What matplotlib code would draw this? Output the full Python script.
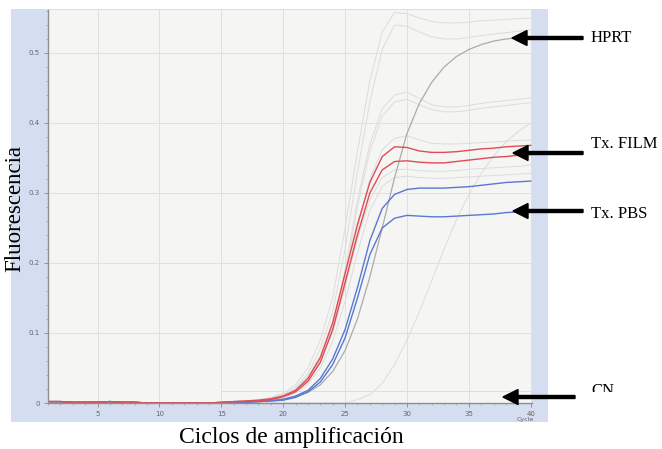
import numpy as np
import matplotlib
matplotlib.use("Agg")
import matplotlib.pyplot as plt
from matplotlib.patches import Rectangle, FancyArrow
from matplotlib.transforms import Bbox, TransformedBbox
from matplotlib.ticker import MultipleLocator

# qPCR amplification curves, fluorescence per cycle
cycles = np.arange(1, 41)

# cycles 1-14: flat baseline shared by every sample
early = [0.002, 0.002, 0.001, 0.001, 0.001, 0.002, 0.001,
         0.001, 0.000, 0.000, 0.000, 0.000, 0.000, 0.000]

# cycles 15-40
film_a = [0.001, 0.002, 0.003, 0.004, 0.006, 0.010, 0.018, 0.035, 0.065, 0.115, 0.185, 0.255, 0.315,
          0.352, 0.366, 0.365, 0.360, 0.358, 0.358, 0.359, 0.361, 0.363, 0.364, 0.366, 0.367, 0.368]
film_b = [0.001, 0.002, 0.002, 0.003, 0.005, 0.009, 0.016, 0.031, 0.058, 0.105, 0.172, 0.240, 0.300,
          0.333, 0.345, 0.346, 0.344, 0.343, 0.343, 0.345, 0.347, 0.349, 0.351, 0.352, 0.354, 0.355]
pbs_a = [0.000, 0.001, 0.001, 0.002, 0.003, 0.005, 0.010, 0.018, 0.035, 0.063, 0.105, 0.165, 0.232,
         0.278, 0.298, 0.305, 0.307, 0.307, 0.307, 0.308, 0.309, 0.311, 0.313, 0.315, 0.316, 0.317]
pbs_b = [0.000, 0.000, 0.001, 0.002, 0.003, 0.004, 0.008, 0.016, 0.030, 0.055, 0.093, 0.150, 0.212,
         0.250, 0.264, 0.268, 0.267, 0.266, 0.266, 0.267, 0.268, 0.269, 0.270, 0.272, 0.273, 0.274]
hprt = [0.001, 0.002, 0.002, 0.003, 0.004, 0.006, 0.009, 0.015, 0.026, 0.045, 0.075, 0.120, 0.180,
        0.250, 0.322, 0.385, 0.428, 0.458, 0.480, 0.495, 0.505, 0.512, 0.517, 0.520, 0.522, 0.523]

# other samples on the run
others = [
    [0.001, 0.002, 0.003, 0.005, 0.008, 0.014, 0.026, 0.050, 0.090, 0.150, 0.250, 0.360, 0.460,
     0.530, 0.558, 0.556, 0.550, 0.545, 0.543, 0.543, 0.544, 0.546, 0.547, 0.548, 0.549, 0.550],
    [0.001, 0.002, 0.003, 0.004, 0.007, 0.012, 0.022, 0.042, 0.078, 0.130, 0.220, 0.330, 0.430,
     0.505, 0.540, 0.538, 0.530, 0.523, 0.520, 0.520, 0.522, 0.525, 0.527, 0.529, 0.531, 0.533],
    [0.001, 0.002, 0.003, 0.004, 0.007, 0.012, 0.020, 0.038, 0.068, 0.110, 0.190, 0.290, 0.370,
     0.420, 0.440, 0.444, 0.435, 0.426, 0.423, 0.423, 0.425, 0.428, 0.430, 0.432, 0.434, 0.436],
    [0.001, 0.002, 0.003, 0.004, 0.006, 0.011, 0.019, 0.036, 0.064, 0.105, 0.180, 0.280, 0.360,
     0.410, 0.430, 0.434, 0.426, 0.419, 0.416, 0.416, 0.418, 0.421, 0.423, 0.425, 0.427, 0.429],
    [0.001, 0.002, 0.003, 0.004, 0.006, 0.010, 0.018, 0.034, 0.062, 0.105, 0.170, 0.250, 0.320,
     0.362, 0.378, 0.382, 0.376, 0.371, 0.370, 0.370, 0.371, 0.372, 0.373, 0.374, 0.375, 0.376],
    [0.001, 0.002, 0.002, 0.003, 0.005, 0.009, 0.017, 0.032, 0.060, 0.100, 0.165, 0.235, 0.290,
     0.322, 0.333, 0.334, 0.332, 0.331, 0.331, 0.332, 0.334, 0.335, 0.336, 0.337, 0.338, 0.340],
    [0.001, 0.001, 0.002, 0.003, 0.004, 0.008, 0.014, 0.027, 0.050, 0.088, 0.145, 0.215, 0.275,
     0.310, 0.322, 0.324, 0.322, 0.321, 0.321, 0.322, 0.323, 0.324, 0.325, 0.326, 0.327, 0.328],
    [0.000, 0.000, 0.000, 0.000, 0.000, 0.000, 0.000, 0.000, 0.000, 0.000, 0.000, 0.005, 0.012,
     0.028, 0.055, 0.090, 0.130, 0.175, 0.220, 0.262, 0.298, 0.328, 0.353, 0.373, 0.388, 0.400],
]

threshold = 0.017
threshold_start = 15

x_ticks = [5, 10, 15, 20, 25, 30, 35, 40]
y_ticks = [0, 0.1, 0.2, 0.3, 0.4, 0.5]
y_labels = ["0", "0.1", "0.2", "0.3", "0.4", "0.5"]

W, H = 662, 449
fig = plt.figure(figsize=(W / 100, H / 100), dpi=100)

# lavender panel behind the plot
fig.add_artist(Rectangle((11 / W, 1 - 422 / H), (548 - 11) / W, (422 - 9) / H,
                         transform=fig.transFigure, facecolor="#d5ddf0",
                         edgecolor="none", zorder=0))

ax = fig.add_axes([48 / W, 1 - 403 / H, (532 - 48) / W, (403 - 10) / H])
ax.set_facecolor("#f5f5f4")

ax.hlines(threshold, threshold_start, 40, color="#dedede", lw=0.7)
for s in others:
    ax.plot(cycles, early + s, color="#dcdcdc", lw=0.7)
ax.plot(cycles, early + hprt, color="#ababab", lw=0.9)
ax.plot(cycles, early + pbs_a, color="#5a78d2", lw=1.0)
ax.plot(cycles, early + pbs_b, color="#5a78d2", lw=1.0)
ax.plot(cycles, early + film_a, color="#e04c55", lw=1.0)
ax.plot(cycles, early + film_b, color="#e04c55", lw=1.0)

ax.set_xlim(1, 40.1)
ax.set_ylim(0, 0.5614)
ax.set_xticks(x_ticks)
ax.set_yticks(y_ticks)
ax.set_yticklabels(y_labels)
ax.xaxis.set_minor_locator(MultipleLocator(1))
ax.yaxis.set_minor_locator(MultipleLocator(0.02))
ax.tick_params(which="major", length=3, width=0.6, color="#888888",
               labelsize=5, labelcolor="#666666", pad=3)
ax.tick_params(which="minor", length=1.5, width=0.5, color="#999999")
ax.grid(True, color="#e0e0e0", lw=0.7)
ax.set_axisbelow(True)
for side in ["top", "right"]:
    ax.spines[side].set_visible(False)
for side in ["left", "bottom"]:
    ax.spines[side].set_color("#8f8f8f")
    ax.spines[side].set_linewidth(1.0)

fig.text(525 / W, 1 - 420 / H, "Cycle", fontsize=4.5, color="#666666",
         ha="center", va="center")

serif = "Liberation Serif"
fig.text(291 / W, 1 - 443 / H, "Ciclos de amplificación", family=serif,
         fontsize=17, ha="center", va="baseline")
fig.text(15 / W, 1 - 209 / H, "Fluorescencia", family=serif, fontsize=16.5,
         rotation=90, ha="center", va="center")

# labels with arrows on the right
labels = [("HPRT", 42, 583, 512, 38),
          ("Tx. FILM", 148, 583, 513, 153),
          ("Tx. PBS", 218, 583, 513, 211),
          ("CN", 395, 575, 503, 397)]
for name, base_y, tail, tip, ay in labels:
    t = fig.text(591 / W, 1 - base_y / H, name, family=serif, fontsize=12,
                 ha="left", va="baseline")
    if name == "CN":
        t.set_clip_box(TransformedBbox(Bbox.from_extents(0, 1 - 392 / H, 1, 1),
                                       fig.transFigure))
        t.set_clip_on(True)
    fig.add_artist(FancyArrow(tail / 100, (H - ay) / 100, (tip - tail) / 100, 0,
                              width=0.03, head_width=0.15, head_length=0.15,
                              length_includes_head=True, color="black",
                              transform=fig.dpi_scale_trans))

fig.savefig("out.png", dpi=100)
